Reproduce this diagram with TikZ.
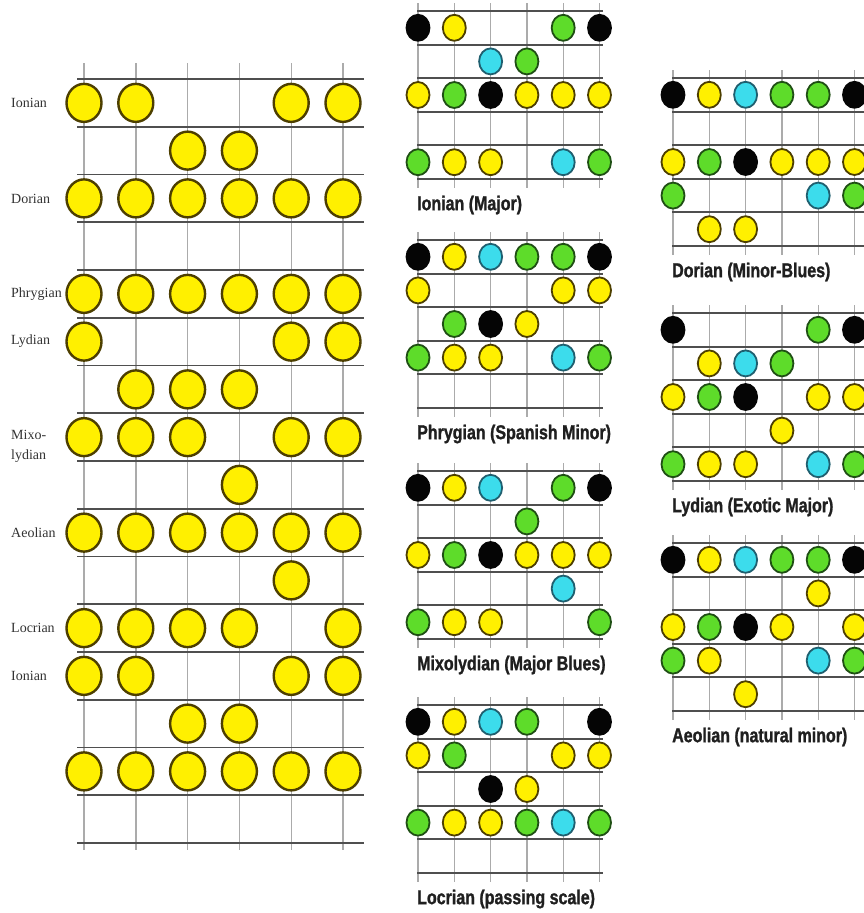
\documentclass[tikz,border=0pt]{standalone}
\usepackage{fontspec}
\setmainfont{Liberation Serif}
\newfontfamily\lblfont[FakeStretch=0.8,FakeBold=1.2]{Liberation Sans}
\usetikzlibrary{shapes.geometric}
\definecolor{fY}{HTML}{FFF000}
\definecolor{oY}{HTML}{4D3F00}
\definecolor{fG}{HTML}{5EDC2A}
\definecolor{oG}{HTML}{1F4F14}
\definecolor{fC}{HTML}{3CDCEC}
\definecolor{oC}{HTML}{1F5F6F}
\definecolor{fK}{HTML}{050505}
\definecolor{oK}{HTML}{050505}
\definecolor{hlc}{HTML}{4F4F4F}
\definecolor{vlc}{HTML}{ABABAB}
\definecolor{txc}{HTML}{333333}
\tikzset{
  hl/.style={draw=hlc, line width=1.9pt},
  vl/.style={draw=vlc, line width=1.4pt},
  bigdot/.style={ellipse, inner sep=0pt, minimum width=35pt, minimum height=38pt, fill=fY, draw=oY, line width=2.4pt},
  smalldot/.style={ellipse, inner sep=0pt, minimum width=23pt, minimum height=26pt, line width=1.8pt},
  modelabel/.style={font=\fontsize{14}{16}\selectfont, text=txc, anchor=west, inner sep=0pt},
  scalelabel/.style={font=\lblfont\bfseries\fontsize{20}{22}\selectfont, text=black!88, anchor=west, inner sep=0pt}
}
% #1 name, #2 x0, #3 y0, #4 right end of lines, #5 label, #6 dots r/s/c
\newcommand\smallboard[6]{%
  \foreach \s in {1,...,6} \draw[vl] ({#2+36.3*(\s-1)},{#3-8}) -- ({#2+36.3*(\s-1)},{#3+177});
  \foreach \k in {0,...,5} \draw[hl] ({#2-1},{#3+33.6*\k}) -- ({#4},{#3+33.6*\k});
  \foreach \r/\s/\c in {#6}
    \node[smalldot, fill=f\c, draw=o\c] (#1-\r-\s) at ({#2+36.3*(\s-1)},{#3+33.6*(\r-0.5)}) {};
  \node[scalelabel] (#1-lbl) at ({#2-1},{#3+168+26}) {#5};
}
\begin{document}
\begin{tikzpicture}[x=1pt,y=-1pt]
\useasboundingbox[fill=white] (0,0) rectangle (864,913);
% ---------- left big fretboard ----------
\foreach \s in {1,...,6} \draw[vl] ({84+51.8*(\s-1)},63) -- ({84+51.8*(\s-1)},850);
\foreach \k in {0,...,16} \draw[hl] (77,{79+47.75*\k}) -- (364,{79+47.75*\k});
\foreach \r/\s in {1/1,1/2,1/5,1/6, 2/3,2/4, 3/1,3/2,3/3,3/4,3/5,3/6,
  5/1,5/2,5/3,5/4,5/5,5/6, 6/1,6/5,6/6, 7/2,7/3,7/4, 8/1,8/2,8/3,8/5,8/6,
  9/4, 10/1,10/2,10/3,10/4,10/5,10/6, 11/5, 12/1,12/2,12/3,12/4,12/6,
  13/1,13/2,13/5,13/6, 14/3,14/4, 15/1,15/2,15/3,15/4,15/5,15/6}
  \node[bigdot] (L-\r-\s) at ({84+51.8*(\s-1)},{79+47.75*(\r-0.5)}) {};
\node[modelabel] (m1) at (11,103) {Ionian};
\node[modelabel] (m2) at (11,199) {Dorian};
\node[modelabel] (m3) at (11,294) {Phrygian};
\node[modelabel] (m4) at (11,341) {Lydian};
\node[modelabel] (m5a) at (11,435) {Mixo-};
\node[modelabel] (m5b) at (11,456) {lydian};
\node[modelabel] (m6) at (11,533) {Aeolian};
\node[modelabel] (m7) at (11,628) {Locrian};
\node[modelabel] (m8) at (11,676) {Ionian};
% ---------- middle column ----------
\smallboard{A}{418}{11}{603}{Ionian (Major)}{1/1/K,1/2/Y,1/5/G,1/6/K, 2/3/C,2/4/G,
  3/1/Y,3/2/G,3/3/K,3/4/Y,3/5/Y,3/6/Y, 5/1/G,5/2/Y,5/3/Y,5/5/C,5/6/G}
\smallboard{B}{418}{240}{603}{Phrygian (Spanish Minor)}{1/1/K,1/2/Y,1/3/C,1/4/G,1/5/G,1/6/K,
  2/1/Y,2/5/Y,2/6/Y, 3/2/G,3/3/K,3/4/Y, 4/1/G,4/2/Y,4/3/Y,4/5/C,4/6/G}
\smallboard{D}{418}{471}{603}{Mixolydian (Major Blues)}{1/1/K,1/2/Y,1/3/C,1/5/G,1/6/K, 2/4/G,
  3/1/Y,3/2/G,3/3/K,3/4/Y,3/5/Y,3/6/Y, 4/5/C, 5/1/G,5/2/Y,5/3/Y,5/6/G}
\smallboard{F}{418}{705}{603}{Locrian (passing scale)}{1/1/K,1/2/Y,1/3/C,1/4/G,1/6/K,
  2/1/Y,2/2/G,2/5/Y,2/6/Y, 3/3/K,3/4/Y, 4/1/G,4/2/Y,4/3/Y,4/4/G,4/5/C,4/6/G}
% ---------- right column ----------
\smallboard{R}{673}{78}{866}{Dorian (Minor-Blues)}{1/1/K,1/2/Y,1/3/C,1/4/G,1/5/G,1/6/K,
  3/1/Y,3/2/G,3/3/K,3/4/Y,3/5/Y,3/6/Y, 4/1/G,4/5/C,4/6/G, 5/2/Y,5/3/Y}
\smallboard{S}{673}{313}{866}{Lydian (Exotic Major)}{1/1/K,1/5/G,1/6/K, 2/2/Y,2/3/C,2/4/G,
  3/1/Y,3/2/G,3/3/K,3/5/Y,3/6/Y, 4/4/Y, 5/1/G,5/2/Y,5/3/Y,5/5/C,5/6/G}
\smallboard{T}{673}{543}{866}{Aeolian (natural minor)}{1/1/K,1/2/Y,1/3/C,1/4/G,1/5/G,1/6/K, 2/5/Y,
  3/1/Y,3/2/G,3/3/K,3/4/Y,3/6/Y, 4/1/G,4/2/Y,4/5/C,4/6/G, 5/3/Y}
\end{tikzpicture}
\end{document}
